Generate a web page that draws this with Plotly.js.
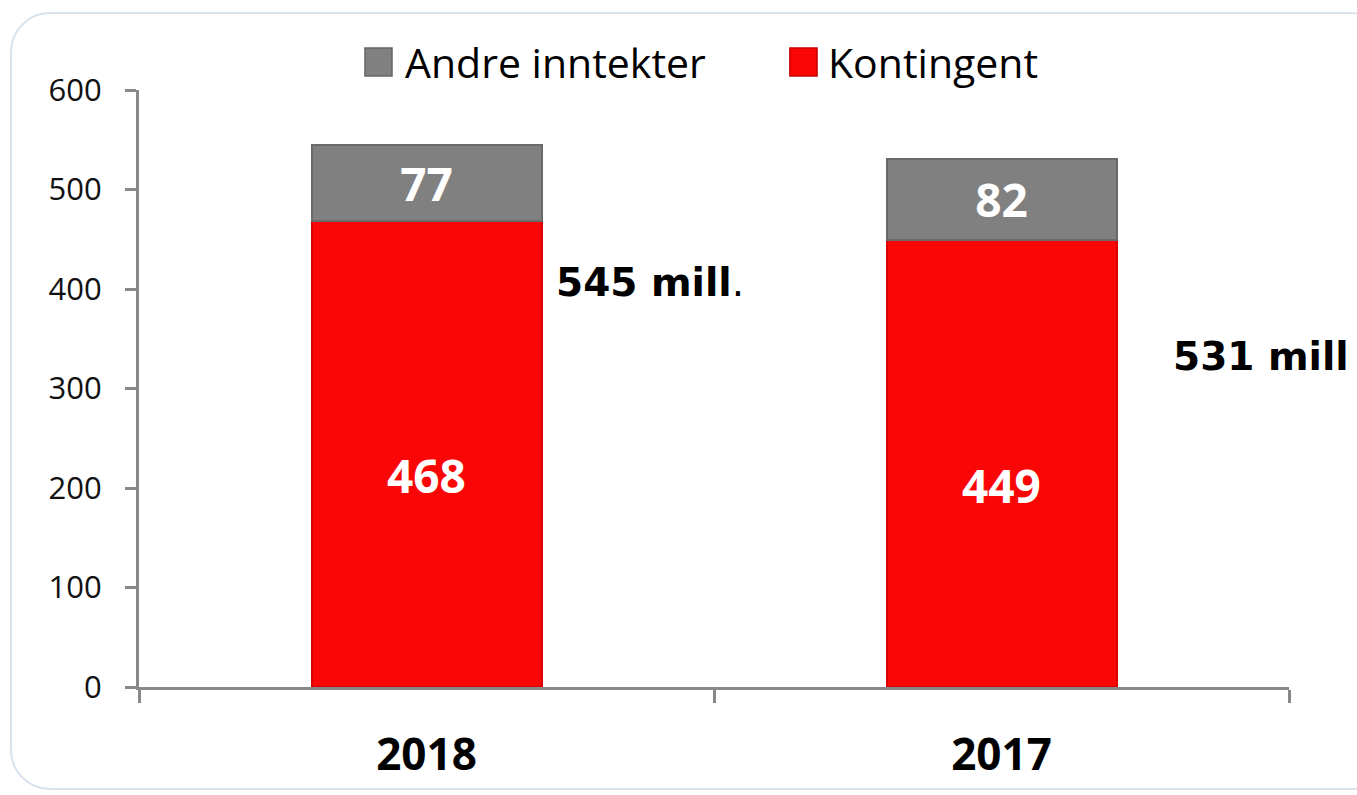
<!DOCTYPE html>
<html>
<head>
<meta charset="utf-8">
<script src="https://cdn.plot.ly/plotly-3.0.1.min.js"></script>
<style>
  html, body { margin: 0; padding: 0; background: #ffffff; }
  #wrap { position: relative; width: 1357px; height: 795px; overflow: hidden; }
  #chart { position: absolute; left: 0; top: 0; width: 1357px; height: 795px; }
  #frame { position: absolute; left: 10px; top: 12px; width: 1380px; height: 778px;
           border: 2px solid #d9e3ee; border-radius: 40px; pointer-events: none; box-sizing: border-box; }
</style>
</head>
<body>
<div id="wrap">
  <div id="frame"></div>
  <div id="chart"></div>
</div>
<script>
const categories = ["2018", "2017"];
const kontingent = [468, 449];
const andreInntekter = [77, 82];
const totalLabels = ["545 mill", "531 mill"];
const seriesNames = ["Andre inntekter", "Kontingent"];
const yTicks = [0, 100, 200, 300, 400, 500, 600];

const red = "#fa0606";
const grey = "#808080";

const traces = [
  {
    type: "bar", name: seriesNames[1], x: categories, y: kontingent,
    marker: { color: red, line: { color: "#d80000", width: 2 } },
    showlegend: false
  },
  {
    type: "bar", name: seriesNames[0], x: categories, y: andreInntekter,
    marker: { color: grey, line: { color: "#6a6a6a", width: 2 } },
    text: andreInntekter.map(String), textposition: "inside", insidetextanchor: "middle",
    textfont: { family: "Open Sans", size: 46, color: "#ffffff", weight: "bold" },
    showlegend: false
  }
];

const annotations = [];
// value labels inside the red segments (placed a little below centre, as in the reference)
categories.forEach((c, i) => {
  annotations.push({
    x: i, y: kontingent[i] / 2, xref: "x", yref: "y", yshift: -21,
    text: "<b>" + kontingent[i] + "</b>", showarrow: false,
    font: { family: "Open Sans", size: 46, color: "#ffffff" }
  });
});
// total annotations
annotations.push({
  xref: "paper", yref: "y", x: 0.3605, y: 407, xanchor: "left", yanchor: "middle",
  text: "<b>" + totalLabels[0] + "</b>.", showarrow: false,
  font: { family: "DejaVu Sans", size: 39, color: "#000000" }
});
annotations.push({
  xref: "paper", yref: "y", x: 0.8975, y: 332, xanchor: "left", yanchor: "middle",
  text: "<b>" + totalLabels[1] + "</b>", showarrow: false,
  font: { family: "DejaVu Sans", size: 39, color: "#000000" }
});
// manual legend text
annotations.push({
  xref: "paper", yref: "paper", x: 0.2295, y: 1.047, xanchor: "left", yanchor: "middle",
  text: seriesNames[0], showarrow: false,
  font: { family: "Open Sans", size: 41, color: "#000000" }
});
annotations.push({
  xref: "paper", yref: "paper", x: 0.5975, y: 1.047, xanchor: "left", yanchor: "middle",
  text: seriesNames[1], showarrow: false,
  font: { family: "Open Sans", size: 41, color: "#000000" }
});

const shapes = [
  { type: "rect", xref: "paper", yref: "paper", x0: 0.1965, x1: 0.2200, y0: 1.0235, y1: 1.0704,
    fillcolor: grey, line: { color: "#666666", width: 1.5 } },
  { type: "rect", xref: "paper", yref: "paper", x0: 0.5660, x1: 0.5896, y0: 1.0235, y1: 1.0704,
    fillcolor: red, line: { color: "#c80000", width: 1.5 } }
];

const layout = {
  width: 1357, height: 795,
  margin: { l: 139, r: 68, t: 90, b: 108, pad: 0 },
  paper_bgcolor: "rgba(0,0,0,0)",
  plot_bgcolor: "rgba(0,0,0,0)",
  barmode: "stack",
  bargap: 0.6,
  showlegend: false,
  xaxis: {
    type: "category",
    range: [-0.5, categories.length - 0.5],
    showgrid: false, zeroline: false,
    showline: true, linecolor: "#888888", linewidth: 3,
    ticks: "outside", tickson: "boundaries", ticklen: 13, tickwidth: 3, tickcolor: "#888888",
    ticklabelstandoff: 27,
    tickfont: { family: "Open Sans", size: 44, color: "#000000", weight: "bold" }
  },
  yaxis: {
    range: [0, 600],
    tickvals: yTicks,
    showgrid: false, zeroline: false,
    showline: true, linecolor: "#888888", linewidth: 3,
    ticks: "outside", ticklen: 11, tickwidth: 3, tickcolor: "#888888",
    ticklabelstandoff: 17,
    tickfont: { family: "Open Sans", size: 31, color: "#111111" }
  },
  annotations: annotations,
  shapes: shapes
};

Plotly.newPlot("chart", traces, layout, { displayModeBar: false, staticPlot: true });
</script>
</body>
</html>
